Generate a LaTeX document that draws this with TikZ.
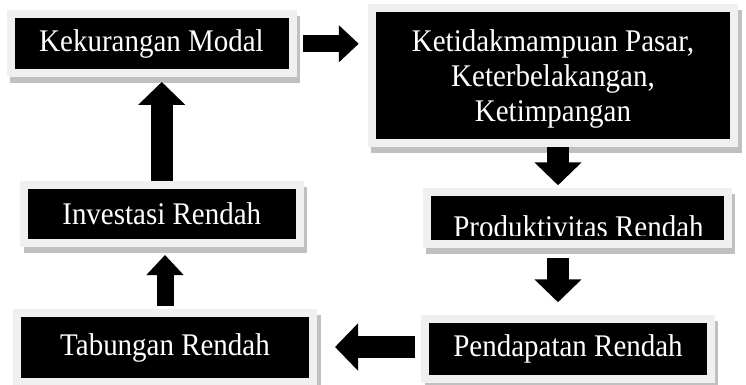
\documentclass[tikz,border=0pt]{standalone}
\usepackage{fontspec}
\setmainfont{Liberation Serif}[FakeStretch=0.92]
\usetikzlibrary{arrows.meta,positioning,calc}
\definecolor{framegray}{HTML}{F0F0F0}
\definecolor{shadowgray}{HTML}{C0C0C0}
\tikzset{
  boxtext/.style={text=white, font=\fontsize{31.5}{35}\selectfont},
  box/.style={boxtext, draw=framegray, line width=8pt, fill=black,
    inner sep=0pt, outer sep=0pt, align=center,
    preaction={draw=shadowgray, fill=shadowgray, line width=8pt,
      transform canvas={shift={(3.5pt,-6pt)}}}},
  bigarrow/.style={line width=22pt, -{Triangle[width=46pt,length=23pt]}},
  smallarrow/.style={line width=17pt, -{Triangle[width=36pt,length=20pt]}},
}

\begin{document}
\begin{tikzpicture}[x=1pt,y=-1pt,on grid]
\useasboundingbox (0,0) rectangle (746,385);

\node[box,minimum width=282pt,minimum height=59.5pt] (kek) at (151.5,43.75) {Kekurangan Modal};
\node[box,minimum width=362.5pt,minimum height=135pt,text depth=0pt] (ketid) [below right=31.75pt and 401.5pt of kek] {Ketidakmampuan Pasar,\\Keterbelakangan,\\Ketimpangan};
\node[box,minimum width=301pt,minimum height=51.5pt] (prod) [below right=142.5pt and 24pt of ketid] {};
\node[box,minimum width=285.5pt,minimum height=59.5pt] (pend) [below left=131pt and 9pt of prod] {Pendapatan Rendah};
\node[box,minimum width=296pt,minimum height=69pt] (tab) [above left=1.5pt and 403pt of pend] {Tabungan Rendah};
\node[box,minimum width=275.5pt,minimum height=58pt] (inv) [above left=134pt and 3.25pt of tab] {Investasi Rendah};

% text of the productivity box is cut off at the bottom
\begin{scope}
  \clip ($(prod.north west)+(4,4)$) rectangle ($(prod.south east)+(-4,-8.5)$);
  \node[boxtext,inner sep=0pt,anchor=base] (prodtxt) at ($(prod.south)+(1.5,-6)$) {Produktivitas Rendah};
\end{scope}

\draw[smallarrow] ($(kek.east)+(10,0)$) -- ($(kek.east -| ketid.west)+(-13,0)$);
\draw[bigarrow] ($(ketid.south)+(5,4)$) -- ($(ketid.south |- prod.north)+(5,-7)$);
\draw[bigarrow] ($(prod.south)+(-19,14)$) -- ($(prod.south |- pend.north)+(-19,-17)$);
\draw[bigarrow] ($(pend.west)+(-10,-2)$) -- ($(pend.west -| tab.east)+(22,-2)$);
\draw[smallarrow] ($(tab.north)+(0,-7)$) -- ($(inv.south -| tab.north)+(0,12.5)$);
\draw[bigarrow] ($(inv.north)+(0,-4)$) -- ($(kek.south -| inv.north)+(0,8.5)$);
\end{tikzpicture}
\end{document}
